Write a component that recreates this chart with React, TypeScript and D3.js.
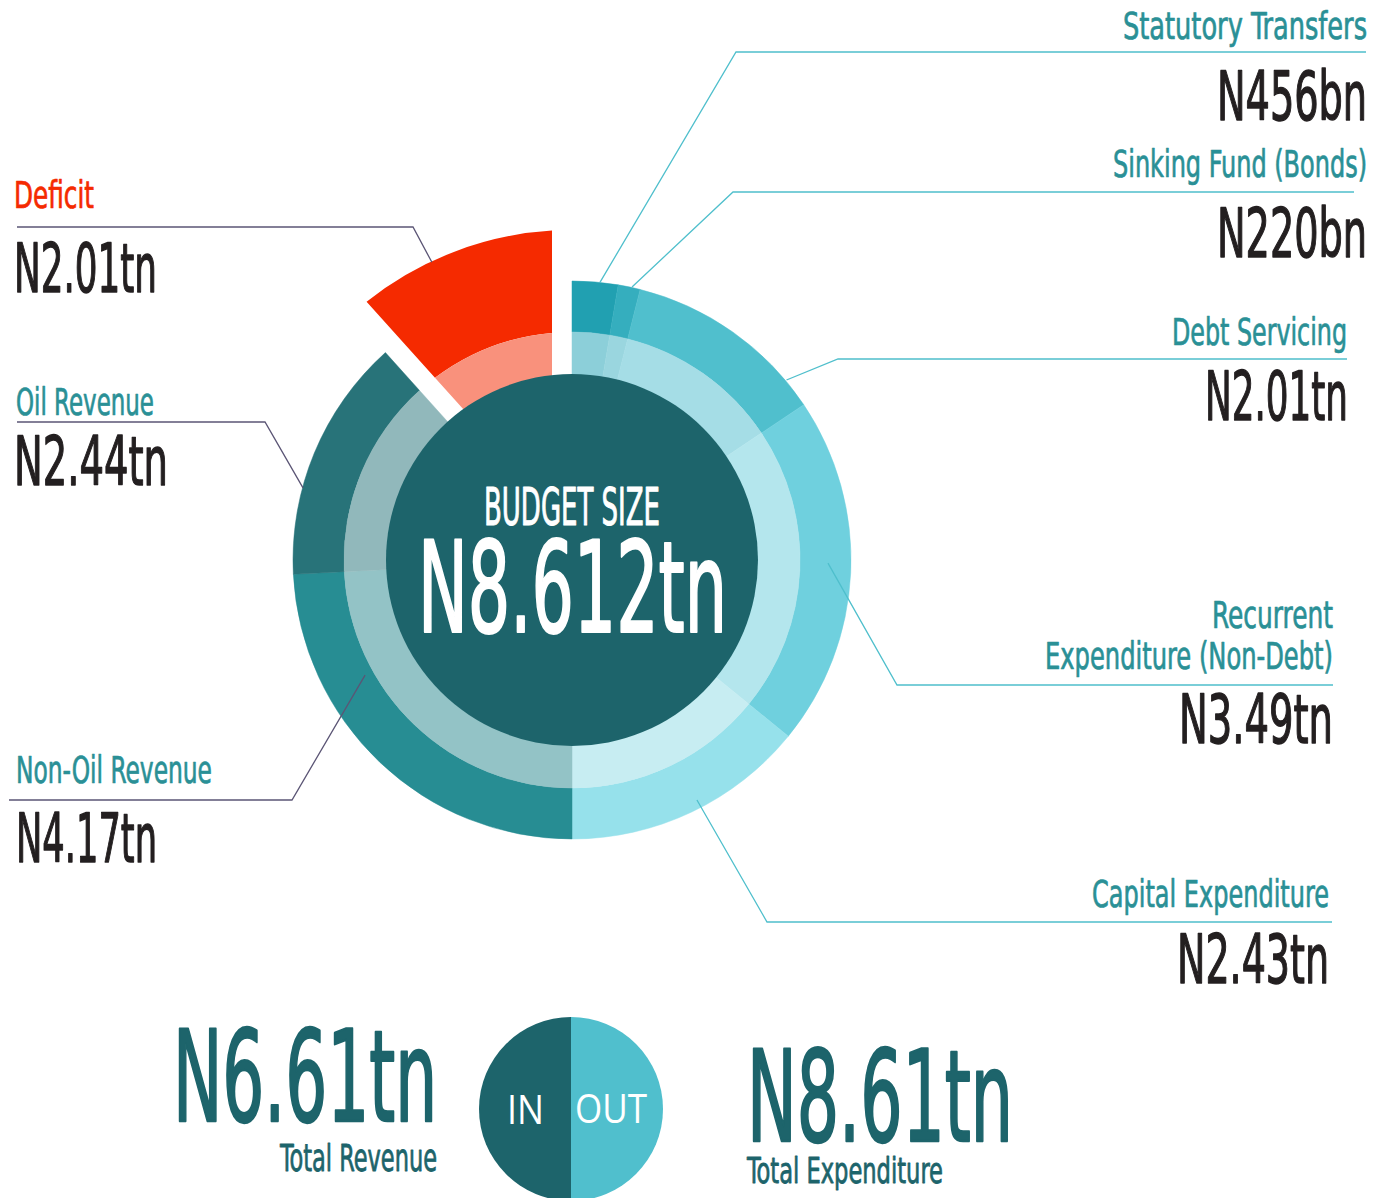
import React from "react";
import * as d3 from "d3";

// ---------- data ----------
const revenueCategories = ["Non-Oil Revenue", "Oil Revenue", "Deficit"];
const revenueValues = [4.17, 2.44, 2.01];
const revenueValueLabels = ["N4.17tn", "N2.44tn", "N2.01tn"];

const expenditureCategories = [
  "Statutory Transfers",
  "Sinking Fund (Bonds)",
  "Debt Servicing",
  "Recurrent Expenditure (Non-Debt)",
  "Capital Expenditure",
];
const expenditureValues = [0.456, 0.22, 2.01, 3.49, 2.43];
const expenditureValueLabels = ["N456bn", "N220bn", "N2.01tn", "N3.49tn", "N2.43tn"];

const budgetTitle = "BUDGET SIZE";
const budgetSizeLabel = "N8.612tn";
const totalRevenueLabel = "N6.61tn";
const totalExpenditureLabel = "N8.61tn";

// ---------- styles ----------
const revenueOuterColors = ["#278d93", "#287379", "#f52a00"];
const revenueInnerColors = ["#93c3c6", "#91b8bb", "#f9917c"];
const expenditureOuterColors = ["#21a0b1", "#35aebe", "#50bfcd", "#6fd0de", "#96e1eb"];
const expenditureInnerColors = ["#8ccfd9", "#9ad6df", "#a5dde6", "#b4e6ed", "#c7edf2"];

const CX = 572;
const CY = 560;
const R_CENTER = 186;
const R_MID = 228;
const R_OUTER = 279;
const R_EXPLODE = 330;
const DARK = "#1d646b";
const TEAL_TEXT = "#2a9096";
const BLACK = "#231f20";
const FONT = "'DejaVu Sans Condensed', 'Liberation Sans Narrow', 'DejaVu Sans', sans-serif";

type TextPos = { text?: string; x: number; y: number; w: number };
type LabelLayout = {
  side: "left" | "right";
  names: TextPos[];
  value: TextPos;
  line: { y: number; x1: number; x2: number };
  anchor: { a: number; r: number };
  nameColor?: string;
};

const expenditureLayout: LabelLayout[] = [
  { side: "right", names: [{ x: 1123, y: 39, w: 244 }], value: { x: 1217, y: 120, w: 150 }, line: { y: 52, x1: 736, x2: 1366 }, anchor: { a: 5.75, r: 279 } },
  { side: "right", names: [{ x: 1113, y: 177, w: 254 }], value: { x: 1217, y: 257, w: 150 }, line: { y: 192, x1: 733, x2: 1354 }, anchor: { a: 12.4, r: 279.5 } },
  { side: "right", names: [{ x: 1172, y: 345, w: 175 }], value: { x: 1205, y: 420, w: 143 }, line: { y: 359, x1: 838, x2: 1347 }, anchor: { a: 50, r: 280 } },
  {
    side: "right",
    names: [
      { text: "Recurrent", x: 1212, y: 628, w: 121 },
      { text: "Expenditure (Non-Debt)", x: 1045, y: 669, w: 288 },
    ],
    value: { x: 1179, y: 743, w: 154 },
    line: { y: 685, x1: 897, x2: 1333 },
    anchor: { a: 90.7, r: 256 },
  },
  { side: "right", names: [{ x: 1092, y: 907, w: 237 }], value: { x: 1177, y: 983, w: 152 }, line: { y: 922, x1: 767, x2: 1332 }, anchor: { a: 152.5, r: 270.6 } },
];

const revenueLayout: LabelLayout[] = [
  { side: "left", names: [{ x: 16, y: 783, w: 196 }], value: { x: 16, y: 862, w: 141 }, line: { y: 800, x1: 9, x2: 292 }, anchor: { a: 240.9, r: 236.8 } },
  { side: "left", names: [{ x: 16, y: 415, w: 138 }], value: { x: 14, y: 485, w: 154 }, line: { y: 422, x1: 17, x2: 265 }, anchor: { a: 285, r: 278.5 } },
  { side: "left", names: [{ x: 14, y: 208, w: 80 }], value: { x: 14, y: 292, w: 143 }, line: { y: 227, x1: 17, x2: 413 }, anchor: { a: 334.8, r: 329 }, nameColor: "#f52a00" },
];

function polar(aDeg: number, r: number): [number, number] {
  const a = (aDeg * Math.PI) / 180;
  return [CX + r * Math.sin(a), CY - r * Math.cos(a)];
}

function FitText(props: { t: TextPos; text: string; size: number; fill: string; bold?: number; family?: string }) {
  const { t, text, size, fill, bold, family } = props;
  return (
    <text
      x={t.x}
      y={t.y}
      fontSize={size}
      fill={fill}
      stroke={bold ? fill : "none"}
      strokeWidth={bold ?? 0}
      strokeLinejoin="round"
      fontFamily={family ?? FONT}
      textLength={t.w}
      lengthAdjust="spacingAndGlyphs"
    >
      {text}
    </text>
  );
}

export default function App() {
  const pieRight = d3.pie<number>().sort(null).value((d) => d).startAngle(0).endAngle(Math.PI);
  const pieLeft = d3.pie<number>().sort(null).value((d) => d).startAngle(Math.PI).endAngle(2 * Math.PI);
  const expArcs = pieRight(expenditureValues);
  const revArcs = pieLeft(revenueValues);

  const outerArc = d3.arc<any>().innerRadius(R_MID).outerRadius(R_OUTER);
  const midArc = d3.arc<any>().innerRadius(R_CENTER - 2).outerRadius(R_MID);
  const padA = 2 * Math.asin(0.2);
  const explodedOuter = d3.arc<any>().innerRadius(R_MID).outerRadius(R_EXPLODE).padRadius(100).padAngle(padA);
  const explodedMid = d3.arc<any>().innerRadius(150).outerRadius(R_MID).padRadius(100).padAngle(padA);

  const deficitIndex = revenueCategories.indexOf("Deficit");

  const renderLabel = (lay: LabelLayout, names: string[], value: string, key: string) => {
    const [ax, ay] = polar(lay.anchor.a, lay.anchor.r);
    const lineColor = lay.side === "right" ? "#4fbfcc" : "#5b5575";
    const elbowX = lay.side === "right" ? lay.line.x1 : lay.line.x2;
    return (
      <g key={key}>
        <polyline
          points={`${ax},${ay} ${elbowX},${lay.line.y} ${lay.side === "right" ? lay.line.x2 : lay.line.x1},${lay.line.y}`}
          fill="none"
          stroke={lineColor}
          strokeWidth={1.3}
        />
        {lay.names.map((n, i) => (
          <FitText key={i} t={n} text={n.text ?? names[i]} size={37} fill={lay.nameColor ?? TEAL_TEXT} bold={0.7} />
        ))}
        <FitText t={lay.value} text={value} size={68} fill={BLACK} bold={1.4} />
      </g>
    );
  };

  return (
    <svg width={1383} height={1198} style={{ position: "absolute", left: 0, top: 0, background: "#fff" }}>
      <g transform={`translate(${CX},${CY})`}>
        {expArcs.map((a, i) => (
          <g key={"e" + i}>
            <path d={outerArc(a) as string} fill={expenditureOuterColors[i]} stroke={expenditureOuterColors[i]} strokeWidth={0.5} />
            <path d={midArc(a) as string} fill={expenditureInnerColors[i]} stroke={expenditureInnerColors[i]} strokeWidth={0.5} />
          </g>
        ))}
        {revArcs.map((a, i) =>
          i === deficitIndex ? (
            <g key={"r" + i}>
              <path d={explodedOuter(a) as string} fill={revenueOuterColors[i]} />
              <path d={explodedMid(a) as string} fill={revenueInnerColors[i]} />
            </g>
          ) : (
            <g key={"r" + i}>
              <path d={outerArc(a) as string} fill={revenueOuterColors[i]} stroke={revenueOuterColors[i]} strokeWidth={0.5} />
              <path d={midArc(a) as string} fill={revenueInnerColors[i]} stroke={revenueInnerColors[i]} strokeWidth={0.5} />
            </g>
          )
        )}
        <circle r={R_CENTER} fill={DARK} />
      </g>

      <FitText t={{ x: 484, y: 525, w: 176 }} text={budgetTitle} size={51} fill="#ffffff" bold={1} />
      <FitText t={{ x: 418, y: 632, w: 309 }} text={budgetSizeLabel} size={126} fill="#ffffff" bold={2.2} />

      {expenditureLayout.map((lay, i) =>
        renderLabel(lay, [expenditureCategories[i]], expenditureValueLabels[i], "el" + i)
      )}
      {revenueLayout.map((lay, i) => renderLabel(lay, [revenueCategories[i]], revenueValueLabels[i], "rl" + i))}

      {/* bottom summary */}
      <FitText t={{ x: 173, y: 1121, w: 264 }} text={totalRevenueLabel} size={127} fill={DARK} bold={2.4} />
      <FitText t={{ x: 280, y: 1171, w: 157 }} text="Total Revenue" size={38} fill={DARK} bold={0.8} />
      <FitText t={{ x: 747, y: 1141, w: 266 }} text={totalExpenditureLabel} size={127} fill={DARK} bold={2.4} />
      <FitText t={{ x: 747, y: 1183, w: 196 }} text="Total Expenditure" size={36} fill={DARK} bold={0.8} />

      <g transform="translate(571,1109)">
        <path d={d3.arc<any>().innerRadius(0).outerRadius(92)({ startAngle: Math.PI, endAngle: 2 * Math.PI }) as string} fill={DARK} />
        <path d={d3.arc<any>().innerRadius(0).outerRadius(92)({ startAngle: 0, endAngle: Math.PI }) as string} fill="#50bfcd" />
      </g>
      <FitText t={{ x: 507, y: 1124, w: 37 }} text="IN" size={40} fill="#ffffff" family="'Open Sans', sans-serif" />
      <FitText t={{ x: 575, y: 1123, w: 72 }} text="OUT" size={40} fill="#ffffff" family="'Open Sans', sans-serif" />
    </svg>
  );
}
